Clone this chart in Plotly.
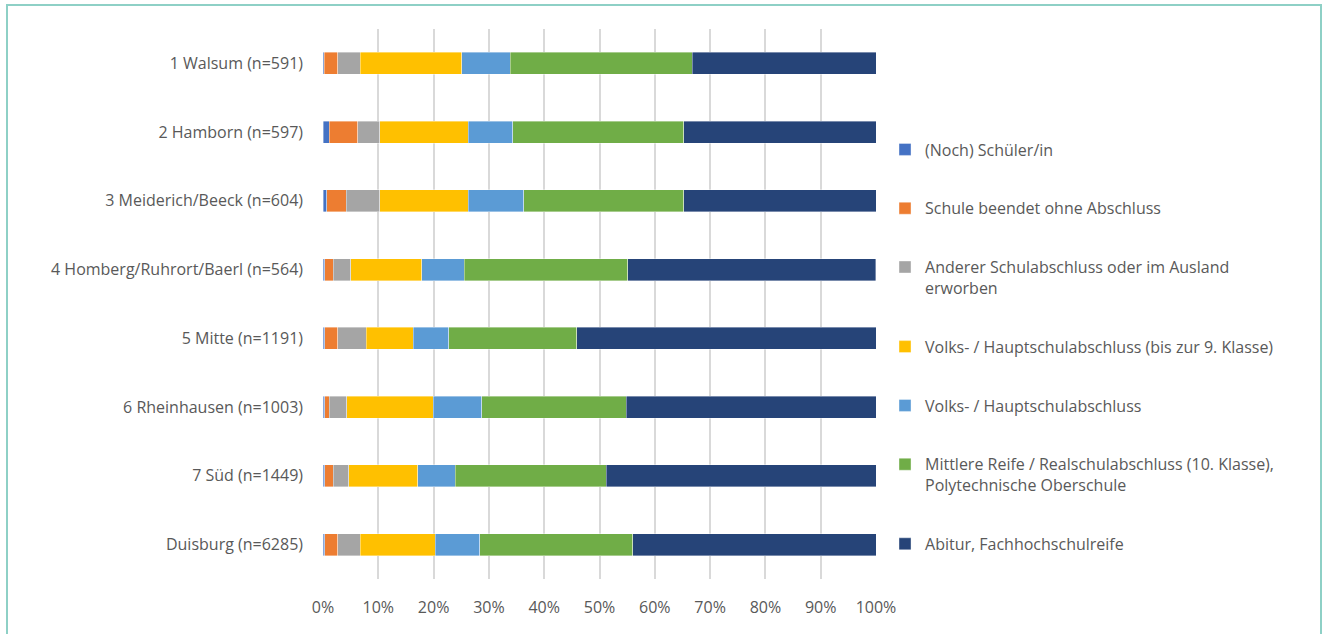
import plotly.graph_objects as go

# Districts (top to bottom) and the share of each school-leaving qualification, in percent
districts = [
    "1 Walsum (n=591)",
    "2 Hamborn (n=597)",
    "3 Meiderich/Beeck (n=604)",
    "4 Homberg/Ruhrort/Baerl (n=564)",
    "5 Mitte (n=1191)",
    "6 Rheinhausen (n=1003)",
    "7 Süd (n=1449)",
    "Duisburg (n=6285)",
]

series_names = [
    "(Noch) Schüler/in",
    "Schule beendet ohne Abschluss",
    "Anderer Schulabschluss oder im Ausland<br>erworben",
    "Volks- / Hauptschulabschluss (bis zur 9. Klasse)",
    "Volks- / Hauptschulabschluss",
    "Mittlere Reife / Realschulabschluss (10. Klasse),<br>Polytechnische Oberschule",
    "Abitur, Fachhochschulreife",
]

schueler = [0.2, 1.1, 0.7, 0.3, 0.3, 0.3, 0.3, 0.3]
ohne_abschluss = [2.45, 5.2, 3.5, 1.55, 2.35, 0.8, 1.55, 2.35]
anderer = [4.05, 4.0, 6.1, 3.2, 5.15, 3.2, 2.85, 4.05]
volks_bis9 = [18.4, 16.0, 16.0, 12.8, 8.5, 15.6, 12.4, 13.6]
volks = [8.8, 8.0, 10.0, 7.65, 6.4, 8.8, 6.8, 8.0]
mittlere_reife = [32.9, 30.9, 28.9, 29.6, 23.2, 26.1, 27.3, 27.7]
abitur = [33.2, 34.8, 34.8, 44.85, 54.1, 45.2, 48.8, 44.0]

series_values = [schueler, ohne_abschluss, anderer, volks_bis9, volks, mittlere_reife, abitur]
series_colors = ["#4472C4", "#ED7D31", "#A5A5A5", "#FFC000", "#5B9BD5", "#70AD47", "#264478"]

x_ticks = [0, 10, 20, 30, 40, 50, 60, 70, 80, 90, 100]
x_tick_labels = [f"{v}%" for v in x_ticks]

FONT = "Open Sans"
TEXT = "#595959"
FS = 16

fig = go.Figure()
for i, (name, vals, col) in enumerate(zip(series_names, series_values, series_colors)):
    fig.add_trace(go.Bar(
        y=districts,
        x=vals,
        name=name,
        orientation="h",
        marker=dict(color=col, line=dict(color="rgba(255,255,255,0.55)", width=0.7)),
        legendgroup=f"g{i}",
    ))

fig.update_layout(
    width=1326,
    height=634,
    barmode="stack",
    bargap=0.68,
    paper_bgcolor="white",
    plot_bgcolor="white",
    margin=dict(l=323, r=450, t=29, b=55),
    font=dict(family=FONT, size=FS, color=TEXT),
    showlegend=True,
    legend=dict(
        x=1.0163, xanchor="left",
        y=0.8118, yanchor="top",
        traceorder="grouped",
        tracegroupgap=35,
        valign="top",
        font=dict(family=FONT, size=FS, color=TEXT),
        bgcolor="rgba(0,0,0,0)",
    ),
    xaxis=dict(
        range=[0, 100],
        tickvals=x_ticks,
        ticktext=x_tick_labels,
        showgrid=True,
        gridcolor="#D9D9D9",
        gridwidth=1.5,
        zeroline=False,
        showline=False,
        ticks="",
        ticklabelstandoff=17,
        tickfont=dict(family=FONT, size=FS, color=TEXT),
        fixedrange=True,
    ),
    yaxis=dict(
        categoryorder="array",
        categoryarray=districts,
        autorange="reversed",
        showgrid=False,
        zeroline=False,
        showline=False,
        ticks="",
        ticklabelstandoff=19,
        tickfont=dict(family=FONT, size=FS, color=TEXT),
        fixedrange=True,
    ),
    shapes=[
        # light teal frame around the chart (open at the bottom edge of the page)
        dict(type="rect", xref="paper", yref="paper",
             x0=-316 / 553, x1=(1321 - 323) / 553,
             y0=-0.2, y1=1 + 24 / 550,
             line=dict(color="#8ED0C6", width=2), fillcolor="rgba(0,0,0,0)", layer="below"),
    ],
)

fig.write_html("out.html")
